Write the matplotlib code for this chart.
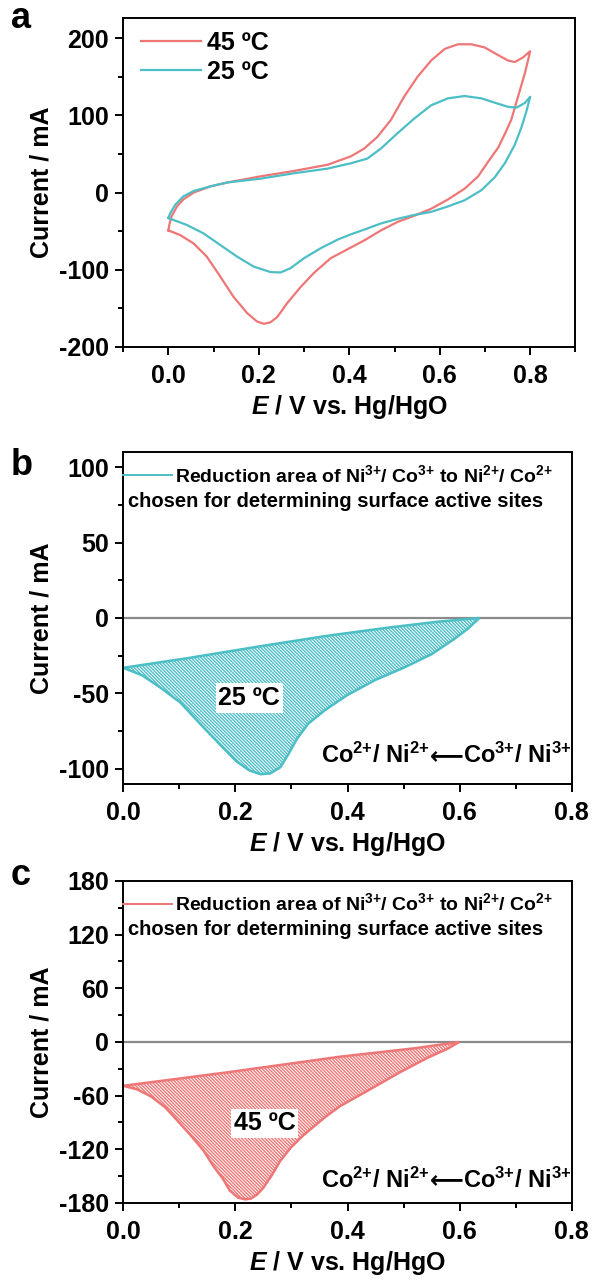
import numpy as np
import matplotlib
matplotlib.use('Agg')
import matplotlib.pyplot as plt
from matplotlib.lines import Line2D
from matplotlib.ticker import MultipleLocator
from matplotlib.offsetbox import TextArea, HPacker, AnchoredOffsetbox

plt.rcParams['font.family'] = ['Liberation Sans', 'DejaVu Sans']
plt.rcParams['font.weight'] = 'bold'
plt.rcParams['mathtext.fontset'] = 'custom'
plt.rcParams['mathtext.rm'] = 'Liberation Sans:bold'
plt.rcParams['mathtext.bf'] = 'Liberation Sans:bold'
plt.rcParams['mathtext.it'] = 'Liberation Sans:bold:italic'
plt.rcParams['axes.unicode_minus'] = False
plt.rcParams['hatch.linewidth'] = 1.0

RED = '#EF7676'
TEAL = '#4CBEC5'

# ---- panel a: CV curves (anodic branch 0 -> 0.8 V, then cathodic branch back) ----
e45 = [0.0, 0.002, 0.007, 0.019, 0.033, 0.056, 0.093, 0.13, 0.204, 0.278, 0.352, 0.404, 0.433,
       0.462, 0.492, 0.521, 0.551, 0.581, 0.611, 0.64, 0.67, 0.699, 0.729, 0.751, 0.766, 0.784, 0.8,
       0.788, 0.773, 0.758, 0.744, 0.729, 0.707, 0.685, 0.655, 0.618, 0.581, 0.544, 0.507, 0.47,
       0.433, 0.404, 0.359, 0.322, 0.293, 0.263, 0.241, 0.226, 0.211, 0.196, 0.174, 0.144, 0.115,
       0.085, 0.056, 0.026, 0.0]
i45 = [-49, -42, -31, -18, -9, 0, 8, 13, 21, 28, 36, 47, 57,
       72, 94, 124, 150, 171, 186, 192, 192, 188, 178, 171, 169, 175, 183,
       154, 124, 94, 76, 58, 40, 21, 5, -9, -21, -30, -38, -49,
       -62, -71, -85, -104, -122, -143, -161, -168, -170, -167, -156, -135, -109,
       -83, -66, -55, -49]

e25 = [0.0, 0.004, 0.015, 0.033, 0.056, 0.093, 0.13, 0.204, 0.278, 0.352, 0.404, 0.44, 0.47,
       0.507, 0.544, 0.581, 0.618, 0.655, 0.692, 0.729, 0.751, 0.77, 0.788, 0.8,
       0.792, 0.781, 0.766, 0.744, 0.722, 0.692, 0.655, 0.618, 0.581, 0.544, 0.507, 0.47,
       0.433, 0.404, 0.374, 0.337, 0.3, 0.27, 0.248, 0.226, 0.189, 0.152, 0.115, 0.078, 0.041, 0.0]
i25 = [-33, -27, -16, -5, 2, 8, 13, 18, 25, 31, 38, 44, 57,
       77, 96, 113, 122, 125, 122, 115, 111, 110, 116, 124,
       106, 85, 62, 38, 20, 3, -10, -18, -25, -29, -34, -40,
       -48, -54, -61, -72, -85, -98, -103.5, -103, -96, -83, -68, -53, -42, -33]

# ---- panel b: 25 C reduction area ----
b_top_e = [0.0, 0.117, 0.24, 0.36, 0.47, 0.56, 0.635]
b_top_i = [-33, -26.5, -19, -12, -6.5, -2.5, 0]
b_bot_e = [0.0, 0.034, 0.066, 0.102, 0.137, 0.173, 0.202, 0.225, 0.245, 0.262, 0.28, 0.295,
           0.31, 0.33, 0.36, 0.4, 0.45, 0.5, 0.55, 0.59, 0.615, 0.635]
b_bot_i = [-33, -38, -46, -56, -70, -84, -95, -101, -103.5, -103, -99, -90,
           -80, -70, -61, -51, -41, -33, -24, -14, -7, 0]

# ---- panel c: 45 C reduction area ----
c_top_e = [0.0, 0.185, 0.386, 0.52, 0.599]
c_top_i = [-49, -34, -16.5, -7, 0]
c_bot_e = [0.0, 0.025, 0.05, 0.075, 0.097, 0.12, 0.144, 0.16, 0.178, 0.19, 0.205, 0.218, 0.228,
           0.238, 0.25, 0.265, 0.28, 0.299, 0.32, 0.339, 0.36, 0.386, 0.44, 0.493, 0.54, 0.58, 0.599]
c_bot_i = [-49, -53, -61, -73, -88, -104, -122, -138, -153, -166, -174, -176, -175,
           -171, -163, -149, -133, -118, -105, -95, -84, -72, -53, -34, -18.5, -7, 0]

LEGEND_TXT = 'Reduction area of Ni$^{3{+}}$/ Co$^{3{+}}$ to Ni$^{2{+}}$/ Co$^{2{+}}$'
CHOSEN_TXT = 'chosen for determining surface active sites'
ARROW_PARTS = ['Co$^{2{+}}$/ Ni$^{2{+}}$', '\u27F5', 'Co$^{3{+}}$/ Ni$^{3{+}}$']

fig = plt.figure(figsize=(5.92, 12.88), dpi=100)
ax_a = fig.add_axes([0.208, 0.7306, 0.764, 0.2554])
ax_b = fig.add_axes([0.208, 0.3913, 0.758, 0.2578])
ax_c = fig.add_axes([0.208, 0.0660, 0.758, 0.2500])

FS = 18


def style(ax):
    for s in ax.spines.values():
        s.set_linewidth(1.4)
    ax.tick_params(which='both', direction='out', top=False, right=False,
                   labelsize=FS, width=1.4)
    ax.tick_params(axis='x', pad=6)
    ax.tick_params(axis='y', pad=4)
    ax.tick_params(which='major', length=6)
    ax.tick_params(which='minor', length=3.5)
    ax.xaxis.set_major_locator(MultipleLocator(0.2))
    ax.xaxis.set_minor_locator(MultipleLocator(0.1))
    ax.xaxis.set_major_formatter(plt.FuncFormatter(lambda v, p: f'{v:.1f}'))
    ax.set_xlabel('$E$ / V vs. Hg/HgO', fontsize=FS, fontweight='bold', labelpad=4)
    ax.set_ylabel('Current / mA', fontsize=FS, fontweight='bold', labelpad=4)


# panel a
ax_a.plot(e45, i45, color=RED, lw=1.6, label='45 ºC')
ax_a.plot(e25, i25, color=TEAL, lw=1.6, label='25 ºC')
ax_a.set_xlim(-0.1, 0.9)
ax_a.set_ylim(-200, 226)
style(ax_a)
ax_a.yaxis.set_major_locator(MultipleLocator(100))
ax_a.yaxis.set_minor_locator(MultipleLocator(50))
ax_a.legend(loc='upper left', bbox_to_anchor=(0.04, 0.96), frameon=False, fontsize=FS,
            handlelength=2.4, handletextpad=0.25, labelspacing=0.2,
            borderaxespad=0, borderpad=0)


def reduction_panel(ax, top_e, top_i, bot_e, bot_i, color, temp, ylim, major, anno_xy, co_frac):
    ax.axhline(0, color='#8a8a8a', lw=1.6, zorder=1)
    poly_e = list(bot_e) + list(top_e[::-1])
    poly_i = list(bot_i) + list(top_i[::-1])
    ax.fill(poly_e, poly_i, facecolor='white', edgecolor=color, hatch='\\' * 10,
            lw=1.8, zorder=2)
    ax.set_xlim(0, 0.8)
    ax.set_ylim(*ylim)
    style(ax)
    ax.yaxis.set_major_locator(MultipleLocator(major))
    ax.yaxis.set_minor_locator(MultipleLocator(major / 2))
    h = Line2D([], [], color=color, lw=1.4)
    ax.legend([h], [LEGEND_TXT],
              loc='center left', bbox_to_anchor=(0.0, 0.93), frameon=False, fontsize=14,
              handlelength=2.5, handletextpad=0.15, borderaxespad=0, borderpad=0)
    ax.text(0.01, 0.85, CHOSEN_TXT, transform=ax.transAxes,
            fontsize=14.5, fontweight='bold', ha='left', va='center')
    ax.text(anno_xy[0], anno_xy[1], temp, fontsize=FS, fontweight='bold', ha='center',
            va='center', zorder=3,
            bbox=dict(facecolor='white', edgecolor='none', pad=2))
    tp = dict(fontsize=17, fontweight='bold')
    parts = [TextArea(ARROW_PARTS[0], textprops=tp),
             TextArea(ARROW_PARTS[1], textprops=dict(fontsize=17, family='DejaVu Sans')),
             TextArea(ARROW_PARTS[2], textprops=tp)]
    box = HPacker(children=parts, align='baseline', pad=0, sep=0)
    anc = AnchoredOffsetbox(loc='center right', child=box, pad=0, borderpad=0, frameon=False,
                            bbox_to_anchor=(1.0, co_frac), bbox_transform=ax.transAxes)
    ax.add_artist(anc)


reduction_panel(ax_b, b_top_e, b_top_i, b_bot_e, b_bot_i, TEAL, '25 ºC',
                (-110, 110), 50, (0.225, -53), 0.086)
reduction_panel(ax_c, c_top_e, c_top_i, c_bot_e, c_bot_i, RED, '45 ºC',
                (-180, 180), 60, (0.252, -91), 0.072)

fig.text(0.018, 0.978, 'a', fontsize=26, fontweight='bold', va='baseline')
fig.text(0.018, 0.631, 'b', fontsize=26, fontweight='bold', va='baseline')
fig.text(0.018, 0.313, 'c', fontsize=26, fontweight='bold', va='baseline')

fig.savefig('out.png', dpi=100)
